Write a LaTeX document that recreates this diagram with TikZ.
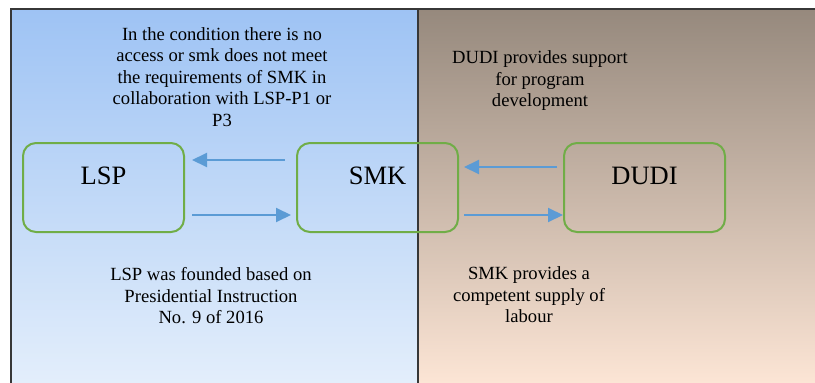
\documentclass[tikz,border=0pt]{standalone}
\usepackage{fontspec}
\setmainfont{Liberation Serif}
\usetikzlibrary{arrows.meta, positioning}

\definecolor{paneltopL}{RGB}{158,195,244}
\definecolor{panelbotL}{RGB}{227,238,251}
\definecolor{paneltopR}{RGB}{150,137,125}
\definecolor{panelbotR}{RGB}{252,229,213}
\definecolor{boxgreen}{RGB}{112,173,71}
\definecolor{flowblue}{RGB}{91,155,213}
\definecolor{rulegray}{RGB}{55,55,55}

\begin{document}
\begin{tikzpicture}[
    x=1pt, y=-1pt,
    node distance=274pt,
    on grid,
    party/.style={draw=boxgreen, line width=2pt, rounded corners=13pt,
        minimum width=161pt, inner sep=0pt,
        text height=41pt, text depth=48pt,
        font=\fontsize{26.5pt}{30pt}\selectfont},
    note/.style={align=center, font=\fontsize{18.6pt}{21.5pt}\selectfont},
    flow/.style={-{Triangle[length=15pt, width=14pt]}, draw=flowblue, line width=2pt},
]
    \useasboundingbox (0,0) rectangle (815,383);

    % the two panels
    \fill[top color=paneltopL, bottom color=panelbotL] (11,9) rectangle (418,383);
    \fill[top color=paneltopR, bottom color=panelbotR] (418,9) rectangle (815,383);
    \draw[rulegray, line width=1.5pt] (11,383) -- (11,9) -- (815,9);
    \draw[rulegray, line width=1.5pt] (418,9) -- (418,383);

    % the three parties
    \node[party]                          (lsp)  at (103.5,187.5) {LSP};
    \node[party, right=274pt of lsp]      (smk)  {SMK};
    \node[party, right=267pt of smk]      (dudi) {DUDI};

    % flows between them
    \draw[flow] ([xshift=-11pt, yshift=27.5pt]smk.west) -- ([xshift=7pt, yshift=27.5pt]lsp.east);
    \draw[flow] ([xshift=7pt, yshift=-27.5pt]lsp.east)  -- ([xshift=-5pt, yshift=-27.5pt]smk.west);
    \draw[flow] ([xshift=-6pt, yshift=20.5pt]dudi.west) -- ([xshift=5pt, yshift=20.5pt]smk.east);
    \draw[flow] ([xshift=5pt, yshift=-27.5pt]smk.east)  -- ([yshift=-27.5pt]dudi.west);

    % notes
    \node[note] (noteTL) at (222,77)  {In the condition there is no\\access or smk does not meet\\the requirements of SMK in\\collaboration with LSP-P1 or\\P3};
    \node[note] (noteBL) at (211,296) {LSP was founded based on\\Presidential Instruction\\No. 9 of 2016};
    \node[note] (noteTR) at (540,81)  {DUDI provides support\\for program\\development};
    \node[note] (noteBR) at (529,295) {SMK provides a\\competent supply of\\labour};
\end{tikzpicture}
\end{document}
